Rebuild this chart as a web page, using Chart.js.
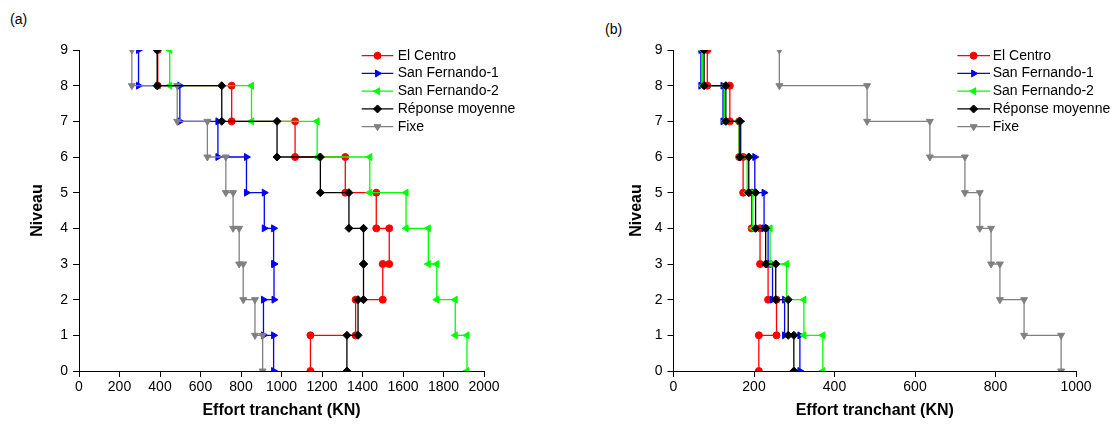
<!DOCTYPE html>
<html><head><meta charset="utf-8">
<script src="https://cdn.jsdelivr.net/npm/chart.js@4.4.0/dist/chart.umd.min.js"></script>
<style>
html,body{margin:0;padding:0;background:#fff;}
body{width:1117px;height:428px;position:relative;overflow:hidden;font-family:"Liberation Sans",Arial,sans-serif;}
.lbl{position:absolute;font-size:14px;color:#000;line-height:16px;}
canvas{position:absolute;top:0;}
</style></head><body>
<div class="lbl" style="left:10px;top:11px;">(a)</div>
<div class="lbl" style="left:605px;top:21px;">(b)</div>
<canvas id="ca" width="560" height="428" style="left:0"></canvas>
<canvas id="cb" width="557" height="428" style="left:560px"></canvas>
<script>
// Levels (top to bottom) and tick labels
const levels = [9, 8, 7, 6, 5, 4, 3, 2, 1, 0];
const yTicks = [0, 1, 2, 3, 4, 5, 6, 7, 8, 9];
const xTicksA = [0, 200, 400, 600, 800, 1000, 1200, 1400, 1600, 1800, 2000];
const xTicksB = [0, 200, 400, 600, 800, 1000];
const seriesNames = ['El Centro', 'San Fernando-1', 'San Fernando-2', 'Réponse moyenne', 'Fixe'];

// (a) story shear, story 9 -> story 1
const aElCentro = [389, 754, 1067, 1315, 1468, 1532, 1500, 1366, 1143];
const aSanFernando1 = [294, 498, 686, 827, 915, 961, 963, 911, 961];
const aSanFernando2 = [448, 852, 1176, 1436, 1615, 1725, 1767, 1858, 1916];
const aMoyenne = [386, 705, 978, 1192, 1333, 1405, 1405, 1378, 1323];
const aFixe = [261, 485, 634, 725, 761, 791, 811, 869, 907];

// (b) story shear, story 9 -> story 1
const bElCentro = [84, 140, 163, 173, 194, 215, 235, 256, 212];
const bSanFernando1 = [68, 123, 167, 202, 225, 235, 246, 276, 314];
const bSanFernando2 = [72, 127, 163, 183, 197, 240, 281, 324, 371];
const bMoyenne = [76, 130, 165, 187, 204, 229, 254, 285, 299];
const bFixe = [263, 481, 637, 724, 761, 789, 811, 871, 963];

// styles
const colors = ['#ff0000', '#0000ff', '#00ff00', '#000000', '#808080'];
const pStyles = ['circle', 'triangle', 'triangle', 'rectRot', 'triangle'];
const pRot = [0, 90, -90, 0, 180];
const pRad = [3.5, 4, 4, 4, 4];
const drawOrder = [4, 3, 2, 0, 1];

function stepPoints(vals) {
  const pts = [];
  for (let i = 0; i < vals.length; i++) {
    pts.push({x: vals[i], y: levels[i]});
    pts.push({x: vals[i], y: levels[i + 1]});
  }
  return pts;
}

function makeDatasets(list) {
  return list.map((vals, i) => ({
    label: seriesNames[i],
    data: stepPoints(vals),
    showLine: true,
    borderColor: colors[i],
    backgroundColor: colors[i],
    borderWidth: 1.3,
    pointStyle: pStyles[i],
    rotation: pRot[i],
    pointRadius: pRad[i],
    pointHoverRadius: pRad[i],
    pointBorderWidth: 1,
    pointBackgroundColor: colors[i],
    pointBorderColor: colors[i],
    tension: 0,
    clip: 0,
    order: drawOrder[i]
  }));
}

const lineLegend = {
  id: 'lineLegend',
  afterDraw(chart, args, opts) {
    const ctx = chart.ctx, ca = chart.chartArea;
    const x0 = ca.right + opts.dx;
    ctx.save();
    chart.data.datasets.forEach((ds, i) => {
      const y = ca.top + opts.dy + i * opts.gap;
      ctx.strokeStyle = ds.borderColor;
      ctx.lineWidth = 1.3;
      ctx.beginPath();
      ctx.moveTo(x0, y);
      ctx.lineTo(x0 + opts.len, y);
      ctx.stroke();
      ctx.fillStyle = ds.borderColor;
      ctx.lineWidth = 1;
      Chart.helpers.drawPoint(ctx, {pointStyle: ds.pointStyle, rotation: ds.rotation, radius: ds.pointRadius, borderWidth: 1}, x0 + opts.len / 2, y);
      ctx.fillStyle = '#000';
      ctx.font = '14px "Liberation Sans", Arial, sans-serif';
      ctx.textBaseline = 'middle';
      ctx.textAlign = 'left';
      ctx.fillText(ds.label, x0 + opts.textDx, y);
    });
    ctx.restore();
  }
};

function makeScales(xTicks, xMax, yWidth) {
  return {
    x: {
      type: 'linear', min: 0, max: xMax,
      afterBuildTicks: s => { s.ticks = xTicks.map(v => ({value: v})); },
      ticks: {font: {size: 14}, color: '#000', padding: 2, maxRotation: 0, autoSkip: false, callback: v => String(v)},
      grid: {drawOnChartArea: false, drawTicks: true, tickLength: 6, color: '#000', lineWidth: 1},
      border: {display: true, color: '#000', width: 1},
      title: {display: true, text: 'Effort tranchant (KN)', color: '#000', font: {size: 16, weight: 'bold'}, padding: {top: 0, bottom: 8}},
      afterFit: s => { s.height = 57; }
    },
    y: {
      type: 'linear', min: 0, max: 9,
      afterBuildTicks: s => { s.ticks = yTicks.map(v => ({value: v})); },
      ticks: {font: {size: 14}, color: '#000', padding: 5, autoSkip: false, callback: v => String(v)},
      grid: {drawOnChartArea: false, drawTicks: true, tickLength: 6, color: '#000', lineWidth: 1},
      border: {display: true, color: '#000', width: 1},
      title: {display: true, text: 'Niveau', color: '#000', font: {size: 16, weight: 'bold'}, padding: {top: 28.4, bottom: 0}},
      afterFit: s => { s.width = yWidth; }
    }
  };
}

Chart.defaults.font.family = '"Liberation Sans", Arial, sans-serif';
Chart.defaults.color = '#000';

function makeChart(id, list, xTicks, xMax, yWidth, padding, legendOpts) {
  return new Chart(document.getElementById(id), {
    type: 'scatter',
    data: {datasets: makeDatasets(list)},
    options: {
      responsive: false, animation: false, devicePixelRatio: 1,
      layout: {padding: padding},
      scales: makeScales(xTicks, xMax, yWidth),
      plugins: {legend: {display: false}, tooltip: {enabled: false}, lineLegend: legendOpts}
    },
    plugins: [lineLegend]
  });
}

makeChart('ca', [aElCentro, aSanFernando1, aSanFernando2, aMoyenne, aFixe], xTicksA, 2000, 79,
  {left: 0, top: 50, right: 76, bottom: 0},
  {dx: -122.3, dy: 5.7, gap: 17.75, len: 31.6, textDx: 36});
makeChart('cb', [bElCentro, bSanFernando1, bSanFernando2, bMoyenne, bFixe], xTicksB, 1000, 74.5,
  {left: 39, top: 50, right: 41, bottom: 0},
  {dx: -118.7, dy: 5.7, gap: 17.75, len: 32.7, textDx: 35.4});
</script>
</body></html>
